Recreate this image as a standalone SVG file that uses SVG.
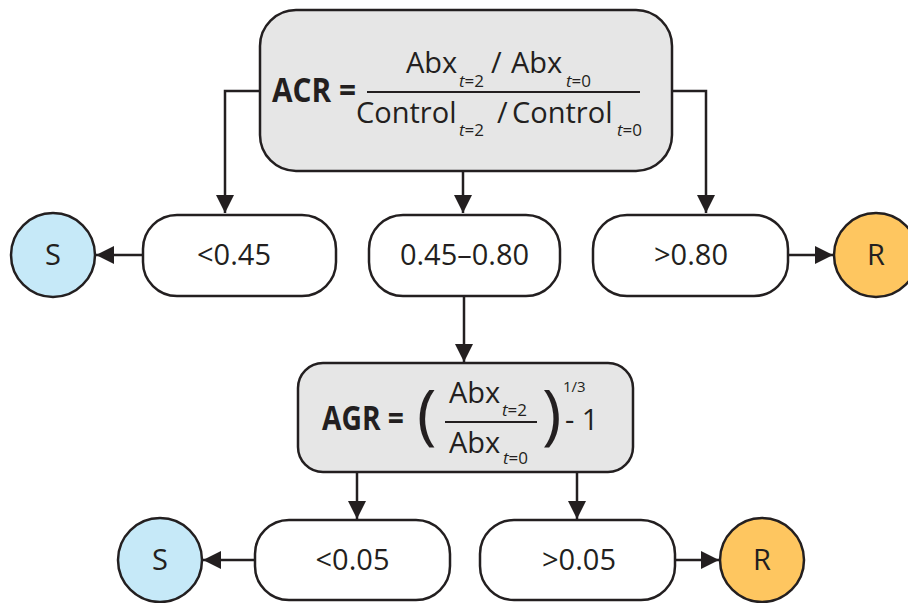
<svg xmlns="http://www.w3.org/2000/svg" width="908" height="603" viewBox="0 0 908 603">
<style>
.box{fill:#ffffff;stroke:#231f20;stroke-width:2.5}
.gbox{fill:#e6e6e6;stroke:#231f20;stroke-width:2.5}
.s{fill:#c6e9f8;stroke:#231f20;stroke-width:2.5}
.r{fill:#fec660;stroke:#231f20;stroke-width:2.5}
.t{font-family:"Open Sans","Noto Sans",sans-serif;font-size:29px;fill:#231f20;text-anchor:middle}
.f{font-family:"Open Sans","Noto Sans",sans-serif;font-size:29px;fill:#231f20}
.b{font-family:"Open Sans","Noto Sans",sans-serif;font-size:34px;font-weight:bold;fill:#231f20}
.sub{font-size:17px}
.it{font-style:italic}
.conn path{fill:none;stroke:#231f20;stroke-width:2.5;marker-end:url(#arr)}
.fl{stroke:#231f20;stroke-width:2}
</style>
<defs>
<marker id="arr" markerUnits="userSpaceOnUse" markerWidth="18" markerHeight="18" refX="18" refY="9" orient="auto">
<path d="M0,0 L18,9 L0,18 z" fill="#231f20"/>
</marker>
</defs>
<g id="connectors" class="conn">
<path d="M260,91 H225 V213"/>
<path d="M463,171 V213"/>
<path d="M672,91 H706 V213"/>
<path d="M143,255 H96"/>
<path d="M788,255 H833"/>
<path d="M464,296 V362"/>
<path d="M357,472 V519"/>
<path d="M577,472 V519"/>
<path d="M255,560 H203"/>
<path d="M675,560 H719"/>
</g>
<g id="acr">
<rect class="gbox" x="260" y="10" width="412" height="161" rx="36"/>
<text class="b" x="272" y="102" textLength="84" lengthAdjust="spacingAndGlyphs">ACR =</text>
<line class="fl" x1="367" y1="92" x2="640" y2="92"/>
<text class="f" y="73"><tspan x="406">Abx</tspan><tspan class="sub" x="459" y="87"><tspan class="it">t</tspan>=2</tspan><tspan x="491" y="73">/</tspan><tspan x="511">Abx</tspan><tspan class="sub" x="566" y="87"><tspan class="it">t</tspan>=0</tspan></text>
<text class="f" y="123"><tspan x="356">Control</tspan><tspan class="sub" x="459" y="136"><tspan class="it">t</tspan>=2</tspan><tspan x="497" y="123">/</tspan><tspan x="512">Control</tspan><tspan class="sub" x="617" y="136"><tspan class="it">t</tspan>=0</tspan></text>
</g>
<g id="lt045">
<rect class="box" x="143" y="215" width="193" height="81" rx="34"/>
<text class="t" x="234" y="265">&lt;0.45</text>
</g>
<g id="mid">
<rect class="box" x="369" y="215" width="191" height="81" rx="34"/>
<text class="t" x="464.5" y="265">0.45–0.80</text>
</g>
<g id="gt080">
<rect class="box" x="593" y="215" width="195" height="81" rx="34"/>
<text class="t" x="691" y="265">&gt;0.80</text>
</g>
<g id="s1">
<circle class="s" cx="53" cy="255" r="42"/>
<text class="t" x="53" y="265">S</text>
</g>
<g id="r1">
<circle class="r" cx="876" cy="255" r="42"/>
<text class="t" x="876" y="265">R</text>
</g>
<g id="agr">
<rect class="gbox" x="298" y="363" width="335" height="109" rx="25"/>
<text class="b" x="322" y="430" textLength="82" lengthAdjust="spacingAndGlyphs">AGR =</text>
<text class="f" x="417" y="437" style="font-size:66px">(</text>
<line class="fl" x1="445" y1="422" x2="537" y2="422"/>
<text class="f" y="403"><tspan x="449">Abx</tspan><tspan class="sub" x="502" y="416"><tspan class="it">t</tspan>=2</tspan></text>
<text class="f" y="453"><tspan x="449">Abx</tspan><tspan class="sub" x="503" y="464"><tspan class="it">t</tspan>=0</tspan></text>
<text class="f" x="542" y="437" style="font-size:66px">)</text>
<text class="f" x="563" y="392" style="font-size:15px">1/3</text>
<text class="f" x="565" y="430" style="font-size:29px">- 1</text>
</g>
<g id="lt005">
<rect class="box" x="255" y="520" width="195" height="80" rx="34"/>
<text class="t" x="352.5" y="570">&lt;0.05</text>
</g>
<g id="gt005">
<rect class="box" x="480" y="520" width="195" height="80" rx="34"/>
<text class="t" x="579" y="570">&gt;0.05</text>
</g>
<g id="s2">
<circle class="s" cx="160" cy="560" r="42"/>
<text class="t" x="160" y="570">S</text>
</g>
<g id="r2">
<circle class="r" cx="762" cy="560" r="42"/>
<text class="t" x="762" y="570">R</text>
</g>
</svg>
